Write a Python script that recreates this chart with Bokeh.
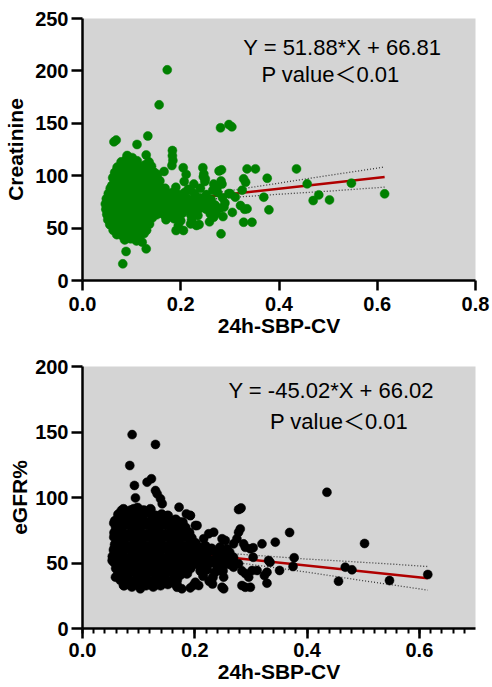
from bokeh.plotting import figure
from bokeh.models import Range1d, FixedTicker, Label, NumeralTickFormatter
from bokeh.layouts import column
from bokeh.embed import file_html
from bokeh.resources import INLINE

# ---------------- data: top panel (Creatinine vs 24h-SBP-CV) ----------------
creat_core = [
    (0.091, 119), (0.101, 117),
    (0.079, 113), (0.089, 115), (0.100, 112), (0.111, 114), (0.135, 113), (0.140, 109),
    (0.071, 108), (0.082, 110), (0.094, 108), (0.104, 109), (0.116, 107), (0.127, 110),
    (0.066, 103), (0.077, 105), (0.088, 104), (0.099, 102), (0.110, 104), (0.121, 103), (0.133, 105), (0.146, 103),
    (0.062, 98), (0.074, 100), (0.085, 99), (0.096, 97), (0.107, 99), (0.118, 100), (0.129, 98), (0.140, 99), (0.152, 101),
    (0.068, 94), (0.079, 93), (0.090, 95), (0.101, 94), (0.112, 93), (0.123, 95), (0.134, 94), (0.145, 93), (0.157, 95),
    (0.057, 88), (0.069, 89), (0.081, 90), (0.093, 88), (0.104, 89), (0.115, 90), (0.126, 88), (0.137, 89), (0.149, 90), (0.160, 88),
    (0.053, 83), (0.064, 84), (0.076, 85), (0.087, 83), (0.098, 84), (0.109, 85), (0.120, 83), (0.131, 84), (0.142, 85), (0.154, 83), (0.165, 84),
    (0.049, 78), (0.060, 79), (0.071, 80), (0.083, 78), (0.094, 79), (0.105, 80), (0.116, 78), (0.127, 79), (0.138, 80), (0.150, 78), (0.162, 79),
    (0.047, 73), (0.058, 74), (0.069, 75), (0.080, 73), (0.091, 74), (0.102, 75), (0.113, 73), (0.124, 74), (0.135, 75), (0.147, 73), (0.159, 74),
    (0.048, 68), (0.059, 69), (0.071, 70), (0.082, 68), (0.093, 69), (0.104, 70), (0.115, 68), (0.126, 69), (0.137, 70), (0.148, 68), (0.160, 69),
    (0.050, 63), (0.061, 64), (0.073, 65), (0.084, 63), (0.095, 64), (0.106, 65), (0.117, 63), (0.128, 64), (0.139, 65), (0.151, 63),
    (0.052, 58), (0.064, 59), (0.075, 60), (0.086, 58), (0.097, 59), (0.108, 60), (0.119, 58), (0.130, 59), (0.142, 60),
    (0.058, 53), (0.069, 54), (0.080, 55), (0.091, 53), (0.102, 54), (0.113, 55), (0.124, 53), (0.136, 54),
    (0.063, 48), (0.074, 49), (0.085, 50), (0.096, 48), (0.107, 49), (0.118, 50), (0.130, 48),
    (0.070, 44), (0.081, 43), (0.092, 45), (0.103, 44), (0.114, 43), (0.125, 45),
    (0.086, 39), (0.098, 40), (0.110, 38),
]
creat_band = [
    (0.168, 88), (0.190, 89), (0.215, 87), (0.240, 88), (0.265, 86),
    (0.172, 83), (0.183, 84), (0.196, 82), (0.208, 84), (0.228, 83), (0.252, 82), (0.275, 84), (0.298, 83),
    (0.166, 78), (0.178, 79), (0.190, 77), (0.202, 79), (0.214, 78), (0.226, 77), (0.238, 79), (0.250, 78), (0.262, 77), (0.285, 79),
    (0.170, 73), (0.182, 74), (0.194, 72), (0.206, 74), (0.218, 73), (0.230, 72), (0.242, 74), (0.256, 73), (0.270, 72), (0.290, 74),
    (0.168, 68), (0.180, 69), (0.192, 67), (0.204, 69), (0.216, 68), (0.228, 67), (0.240, 69), (0.252, 68), (0.266, 67), (0.280, 69),
    (0.165, 63), (0.178, 64), (0.190, 62), (0.203, 64), (0.220, 63), (0.235, 62), (0.272, 64),
    (0.170, 58), (0.186, 59), (0.200, 57), (0.222, 58),
]
creat_sparse = [
    (0.1725, 201), (0.156, 167.6), (0.281, 145.7), (0.298, 148.8), (0.304, 146.6),
    (0.064, 132.3), (0.0686, 134), (0.111, 129.8), (0.133, 137.9), (0.1297, 119.8),
    (0.183, 124), (0.183, 119), (0.184, 114.5), (0.182, 109.7), (0.166, 104),
    (0.205, 107.6), (0.211, 101.2), (0.207, 94.5), (0.245, 107.6), (0.246, 99), (0.249, 94.5),
    (0.278, 104.5), (0.283, 105.6), (0.335, 106.5), (0.352, 106.5), (0.4356, 106.5),
    (0.376, 97.6), (0.4574, 92.2), (0.5474, 92.9), (0.615, 82.7), (0.481, 81.7),
    (0.4696, 76.3), (0.5028, 76.9), (0.369, 79.5), (0.3795, 67.4), (0.325, 86.2),
    (0.328, 97), (0.332, 93.8), (0.328, 55.6), (0.345, 55.6), (0.305, 65), (0.282, 44.5),
    (0.286, 61), (0.288, 70), (0.2585, 56), (0.2055, 47.7), (0.1905, 47.7), (0.2237, 54.6),
    (0.2373, 53.4), (0.082, 15.9), (0.0887, 27.7), (0.1297, 30.2), (0.1215, 36.6),
    (0.0555, 53.4), (0.0598, 90.6), (0.064, 92.2), (0.267, 92), (0.274, 89), (0.282, 95),
    (0.284, 92), (0.301, 82.7), (0.311, 79.5), (0.3216, 71.6), (0.33, 68), (0.335, 68.4),
    (0.26, 63.6), (0.267, 60.4), (0.2266, 92), (0.22, 86), (0.247, 101.8), (0.25, 97),
    (0.195, 52.5), (0.232, 52.5), (0.22, 54),
]
creat_slope, creat_intercept = 51.88, 66.81
creat_fit_x = [0.047, 0.615]
creat_ci_x = [0.047, 0.1, 0.15, 0.2, 0.25, 0.3, 0.35, 0.4, 0.45, 0.5, 0.55, 0.615]
creat_ci_upper = [71.5, 73.6, 76.1, 79.2, 82.4, 85.7, 89.3, 92.9, 96.6, 100.2, 103.7, 108.3]
creat_ci_lower = [67.1, 70.4, 73.1, 75.2, 77.2, 79.1, 80.7, 82.3, 83.8, 85.2, 86.9, 89.1]

# ---------------- data: bottom panel (eGFR% vs 24h-SBP-CV) ----------------
egfr_core = [
    (0.073, 91), (0.086, 90), (0.098, 92), (0.109, 90), (0.121, 91),
    (0.064, 87), (0.075, 86), (0.086, 88), (0.097, 86), (0.108, 87), (0.119, 88), (0.130, 86), (0.141, 87), (0.152, 86),
    (0.058, 82), (0.068, 83), (0.079, 81), (0.090, 82), (0.101, 83), (0.112, 81), (0.123, 82), (0.134, 83), (0.145, 81), (0.156, 82), (0.166, 83), (0.178, 81),
    (0.060, 77), (0.071, 78), (0.082, 79), (0.093, 77), (0.104, 78), (0.115, 79), (0.126, 77), (0.137, 78), (0.148, 79), (0.159, 77), (0.170, 78), (0.183, 77),
    (0.057, 73), (0.068, 74), (0.079, 72), (0.090, 73), (0.101, 74), (0.112, 72), (0.123, 73), (0.134, 74), (0.145, 72), (0.156, 73), (0.167, 74), (0.178, 72), (0.190, 73),
    (0.061, 69), (0.072, 68), (0.083, 70), (0.094, 69), (0.105, 68), (0.116, 70), (0.127, 69), (0.138, 68), (0.149, 70), (0.160, 69), (0.171, 68), (0.182, 70), (0.194, 69),
    (0.058, 64), (0.069, 65), (0.080, 63), (0.091, 64), (0.102, 65), (0.113, 63), (0.124, 64), (0.135, 65), (0.146, 63), (0.157, 64), (0.168, 65), (0.179, 63), (0.190, 64), (0.201, 65),
    (0.056, 60), (0.067, 59), (0.078, 61), (0.089, 60), (0.100, 59), (0.111, 61), (0.122, 60), (0.133, 59), (0.144, 61), (0.155, 60), (0.166, 59), (0.177, 61), (0.188, 60), (0.199, 59),
    (0.054, 55), (0.065, 56), (0.076, 54), (0.087, 55), (0.098, 56), (0.109, 54), (0.120, 55), (0.131, 56), (0.142, 54), (0.153, 55), (0.164, 56), (0.175, 54), (0.186, 55), (0.197, 56),
    (0.056, 51), (0.067, 50), (0.078, 52), (0.089, 51), (0.100, 50), (0.111, 52), (0.122, 51), (0.133, 50), (0.144, 52), (0.155, 51), (0.166, 50), (0.177, 52), (0.188, 51), (0.199, 50),
    (0.060, 46), (0.071, 47), (0.082, 45), (0.093, 46), (0.104, 47), (0.115, 45), (0.126, 46), (0.137, 47), (0.148, 45), (0.159, 46), (0.170, 47), (0.181, 45), (0.192, 46),
    (0.064, 42), (0.075, 41), (0.086, 43), (0.097, 42), (0.108, 41), (0.119, 43), (0.130, 42), (0.141, 41), (0.152, 43), (0.163, 42), (0.174, 41), (0.186, 42),
    (0.068, 37), (0.079, 38), (0.090, 36), (0.101, 37), (0.112, 38), (0.123, 36), (0.134, 37), (0.145, 38), (0.156, 36), (0.168, 37),
    (0.074, 33), (0.088, 32), (0.100, 34), (0.113, 33), (0.126, 32), (0.139, 33), (0.152, 34), (0.168, 33),
]
egfr_band = [
    (0.208, 62), (0.219, 63), (0.230, 61), (0.245, 62),
    (0.205, 58), (0.216, 57), (0.227, 59), (0.238, 58), (0.250, 57), (0.262, 58),
    (0.210, 53), (0.221, 54), (0.232, 52), (0.243, 53), (0.255, 54), (0.268, 52),
    (0.205, 49), (0.216, 48), (0.227, 50), (0.238, 49), (0.250, 48), (0.262, 49),
    (0.210, 44), (0.222, 45), (0.236, 43), (0.250, 44),
    (0.215, 40), (0.232, 39),
]
egfr_sparse = [
    (0.0884, 148), (0.13, 140.5), (0.0842, 124.4), (0.0925, 109.2), (0.0943, 99.7),
    (0.115, 111.7), (0.1228, 114.3), (0.13, 105.3), (0.133, 102.8), (0.139, 99), (0.142, 95.2),
    (0.172, 92.6), (0.185, 87.5), (0.192, 86.2), (0.201, 78.6), (0.173, 81.1), (0.069, 90),
    (0.091, 91.4), (0.0557, 80.4), (0.0557, 69.7), (0.0528, 51.9), (0.0587, 39.2),
    (0.0735, 32.8), (0.0795, 34.1), (0.103, 30.3), (0.139, 34.1), (0.1685, 31.5), (0.177, 30.3),
    (0.207, 32.8), (0.201, 35.3), (0.278, 90.8), (0.2824, 92), (0.281, 91.4), (0.4354, 104),
    (0.3689, 73.3), (0.3434, 65.9), (0.5024, 64.9), (0.3197, 64.6), (0.377, 54), (0.375, 47.3),
    (0.468, 46.8), (0.48, 44.8), (0.456, 36.1), (0.5468, 36.6), (0.615, 41.2), (0.351, 44.3),
    (0.3286, 34.6), (0.304, 61.6), (0.278, 73.5), (0.281, 76), (0.275, 68.5), (0.3315, 51.9),
    (0.334, 50.6), (0.3286, 43), (0.324, 40.5), (0.304, 54.4), (0.302, 44.3), (0.296, 39.2),
    (0.299, 31.5), (0.284, 32.8), (0.29, 31.5), (0.287, 64.6), (0.29, 62), (0.269, 64.6),
    (0.2575, 60.8), (0.2486, 68.5), (0.2544, 67.2), (0.2248, 72.3), (0.2337, 73.5),
    (0.2158, 68.5), (0.204, 78.6), (0.192, 86.3), (0.2486, 31.5), (0.2515, 30.3),
    (0.2456, 44.3), (0.2514, 39.2), (0.269, 46.8), (0.278, 49.4), (0.263, 51.9), (0.269, 54.4),
    (0.299, 60.8), (0.311, 44.3), (0.284, 44), (0.29, 42), (0.2316, 34), (0.2257, 36),
    (0.1975, 33), (0.192, 31),
]
egfr_slope, egfr_intercept = -45.02, 66.02
egfr_fit_x = [0.053, 0.615]
egfr_ci_x = [0.053, 0.1, 0.15, 0.2, 0.25, 0.3, 0.35, 0.4, 0.45, 0.5, 0.55, 0.615]
egfr_ci_upper = [66.1, 63.3, 61.0, 59.2, 57.7, 56.1, 54.6, 53.0, 51.8, 50.5, 49.2, 47.3]
egfr_ci_lower = [61.1, 59.7, 57.6, 54.8, 51.9, 48.9, 46.0, 43.0, 39.8, 36.5, 33.4, 29.3]

top_x_ticks = [0.0, 0.2, 0.4, 0.6, 0.8]
top_y_ticks = [0, 50, 100, 150, 200, 250]
bot_x_ticks = [0.0, 0.2, 0.4, 0.6]
bot_x_minor = [i * 0.02 for i in range(36)]
bot_y_ticks = [0, 50, 100, 150, 200]

FONT = "Liberation Sans"
NOTE_FONT = "Liberation Sans, Noto Sans CJK SC"
GRAY = "#D4D4D4"
RED = "#B00000"


def base_fig(height, top, bottom, xmax, ymax, xticks, yticks, xminor,
             xtitle, ytitle, x_standoff, ytitle_standoff):
    p = figure(width=492, height=height, output_backend="svg", toolbar_location=None,
               x_range=Range1d(0, xmax), y_range=Range1d(0, ymax),
               min_border_left=82, min_border_right=17,
               min_border_top=top, min_border_bottom=bottom)
    p.background_fill_color = GRAY
    p.border_fill_color = "white"
    p.outline_line_color = None
    p.grid.visible = False
    p.xaxis.ticker = FixedTicker(ticks=xticks, minor_ticks=xminor)
    p.yaxis.ticker = FixedTicker(ticks=yticks, minor_ticks=[])
    p.xaxis.formatter = NumeralTickFormatter(format="0.0")
    p.yaxis.formatter = NumeralTickFormatter(format="0")
    p.xaxis.axis_label = xtitle
    p.yaxis.axis_label = ytitle
    for ax in (p.xaxis[0], p.yaxis[0]):
        ax.axis_line_width = 2.5
        ax.axis_line_color = "black"
        ax.major_tick_line_width = 2.5
        ax.major_tick_line_color = "black"
        ax.minor_tick_line_width = 2
        ax.minor_tick_line_color = "black"
        ax.major_tick_in = 0
        ax.minor_tick_in = 0
        ax.major_label_text_font = FONT
        ax.major_label_text_font_style = "bold"
        ax.major_label_text_font_size = "20px"
        ax.major_label_text_color = "black"
        ax.axis_label_text_font = FONT
        ax.axis_label_text_font_style = "bold"
        ax.axis_label_text_font_size = "21px"
        ax.axis_label_text_color = "black"
    p.xaxis.major_tick_out = 10
    p.xaxis.minor_tick_out = 5
    p.xaxis.major_label_standoff = x_standoff
    p.xaxis.axis_label_standoff = 0
    p.yaxis.major_tick_out = 11
    p.yaxis.minor_tick_out = 0
    p.yaxis.major_label_standoff = 3
    p.yaxis.axis_label_standoff = ytitle_standoff
    return p


def add_label(p, x, y, text, size="22px"):
    p.add_layout(Label(x=x, y=y, text=text, text_font=NOTE_FONT, text_font_size=size,
                       text_align="center", text_baseline="middle", text_color="black"))


def draw_panel(p, groups, sizes, color, slope, intercept, fit_x, ci_x, ci_up, ci_lo):
    p.line(ci_x, ci_up, line_color="#3a3a3a", line_width=1.3, line_dash="1 2")
    p.line(ci_x, ci_lo, line_color="#3a3a3a", line_width=1.3, line_dash="1 2")
    fit_y = [slope * xv + intercept for xv in fit_x]
    p.line(fit_x, fit_y, line_color=RED, line_width=2.6)
    for g, s in zip(groups, sizes):
        xs = [pt[0] for pt in g]
        ys = [pt[1] for pt in g]
        p.scatter(xs, ys, size=s, fill_color=color, line_color=color, line_width=0.5)


# ---------------- top panel ----------------
p1 = base_fig(342, 18, 62, 0.8, 250, top_x_ticks, top_y_ticks, [],
              "24h-SBP-CV", "Creatinine", 6, 5)
draw_panel(p1, [creat_core, creat_band, creat_sparse], [9.5, 9, 9], "#008000",
           creat_slope, creat_intercept, creat_fit_x, creat_ci_x, creat_ci_upper, creat_ci_lower)
add_label(p1, 0.529, 222, "Y = 51.88*X + 66.81")
add_label(p1, 0.505, 196.6, "P value\uff1c0.01")

# ---------------- bottom panel ----------------
p2 = base_fig(345, 24, 59, 0.7, 200, bot_x_ticks, bot_y_ticks, bot_x_minor,
              "24h-SBP-CV", "eGFR%", 4, 1)
draw_panel(p2, [egfr_core, egfr_band, egfr_sparse], [10, 9.5, 9], "black",
           egfr_slope, egfr_intercept, egfr_fit_x, egfr_ci_x, egfr_ci_upper, egfr_ci_lower)
add_label(p2, 0.443, 181.7, "Y = -45.02*X + 66.02")
add_label(p2, 0.457, 158, "P value\uff1c0.01")

layout = column(p1, p2, spacing=0)
open("out.html", "w").write(file_html(layout, INLINE))
